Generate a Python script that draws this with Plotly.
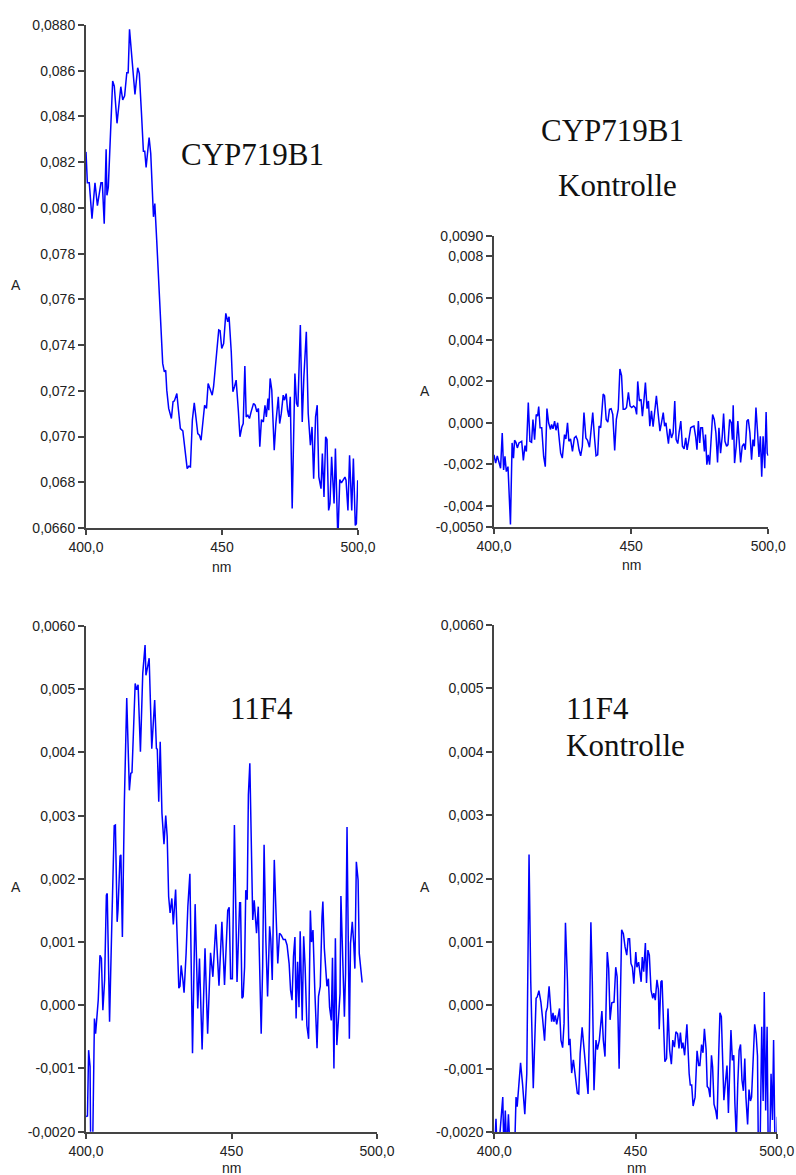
import plotly.graph_objects as go

# ---------------- data ----------------
wl_cyp = [400.0, 400.5, 401.2, 402.2, 403.3, 404.2, 405.5, 406.0, 406.7, 407.4, 407.7, 408.2,
          409.8, 410.4, 411.4, 412.8, 413.5, 414.2, 415.0, 415.5, 416.0, 416.6, 418.0, 419.0,
          419.6, 420.4, 421.1, 421.6, 422.1, 423.2, 423.8, 424.8, 425.3, 426.0, 427.0, 427.6,
          428.2, 428.8, 429.3, 429.7, 430.4, 431.4, 432.0, 432.5, 433.4, 434.0, 434.7, 435.6,
          436.2, 437.2, 437.8, 438.4, 439.1, 439.8, 440.4, 441.1, 441.7, 442.3, 443.6, 444.3,
          444.9, 445.5, 446.4, 446.9, 448.1, 448.8, 449.3, 449.9, 450.6, 451.4, 452.1, 452.6,
          453.4, 454.0, 454.6, 455.2, 456.0, 456.6, 457.3, 457.8, 458.4, 458.9, 459.5, 460.1,
          460.7, 461.6, 462.2, 462.8, 463.4, 463.9, 464.5, 465.2, 465.8, 466.3, 466.9, 467.2,
          467.7, 468.3, 469.2, 469.8, 470.7, 471.2, 471.8, 472.5, 473.0, 473.6, 474.1, 474.6,
          475.1, 475.8, 476.8, 477.4, 477.9, 478.8, 479.5, 480.1, 481.0, 481.7, 482.5, 483.1,
          483.7, 484.4, 485.0, 485.6, 486.4, 486.9, 487.5, 488.1, 488.6, 489.2, 489.7, 490.3,
          491.2, 491.7, 492.6, 493.3, 493.9, 494.5, 495.2, 495.6, 496.3, 496.9, 497.7, 498.3,
          499.0, 499.4, 499.9]
abs_cyp = [0.08245, 0.0811, 0.0811, 0.07953, 0.0811, 0.0801, 0.0811, 0.0811, 0.07931, 0.08257, 0.08055, 0.0809,
           0.08555, 0.08533, 0.0837, 0.0853, 0.08472, 0.0849, 0.08591, 0.08591, 0.08781, 0.08705, 0.08496, 0.08613,
           0.08588, 0.08413, 0.08248, 0.08248, 0.08177, 0.08308, 0.08238, 0.07961, 0.08019, 0.07858, 0.07603, 0.07466,
           0.0732, 0.07283, 0.0729, 0.07203, 0.07123, 0.07079, 0.07152, 0.07156, 0.07188, 0.07115, 0.07035, 0.07025,
           0.06955, 0.0686, 0.0687, 0.06867, 0.07072, 0.07147, 0.07086, 0.07013, 0.07006, 0.06984, 0.07137, 0.07123,
           0.07232, 0.0721, 0.07181, 0.07218, 0.07385, 0.07466, 0.07463, 0.07385, 0.07407, 0.07539, 0.07502, 0.07524,
           0.07371, 0.07196, 0.07218, 0.07247, 0.07115, 0.06999, 0.07042, 0.07057, 0.07308, 0.07086, 0.07093, 0.07079,
           0.07108, 0.07145, 0.07137, 0.07108, 0.07123, 0.06955, 0.07074, 0.07064, 0.07137, 0.07086, 0.07166, 0.07115,
           0.07254, 0.07203, 0.0694, 0.07057, 0.07174, 0.07057, 0.07101, 0.07181, 0.07159, 0.07188, 0.07115, 0.07086,
           0.07174, 0.06685, 0.07276, 0.07145, 0.0713, 0.07488, 0.07064, 0.07261, 0.07458, 0.07101, 0.06962, 0.07042,
           0.06816, 0.07086, 0.07137, 0.06823, 0.06772, 0.06926, 0.06736, 0.06999, 0.06987, 0.06677, 0.06707, 0.06911,
           0.06707, 0.06948, 0.0655, 0.06812, 0.06797, 0.06809, 0.06823, 0.06809, 0.06677, 0.06918, 0.06677, 0.06904,
           0.06611, 0.06619, 0.06809]

wl_cyp_ctrl = [400.0, 400.6, 401.2, 402.4, 403.0, 403.5, 404.0, 404.5, 405.1, 406.0, 406.6, 407.1,
               407.5, 408.0, 408.5, 409.1, 410.1, 410.7, 411.3, 411.8, 412.5, 413.1, 413.7, 414.2,
               414.8, 415.4, 415.9, 416.3, 416.8, 417.4, 418.1, 418.7, 419.3, 419.9, 420.6, 421.0,
               421.5, 422.1, 422.6, 423.2, 423.8, 424.3, 424.9, 425.7, 426.2, 426.8, 427.3, 427.9,
               428.6, 429.3, 429.9, 430.4, 431.0, 431.6, 432.2, 432.8, 433.5, 434.1, 434.8, 435.4,
               436.0, 436.6, 437.2, 437.8, 438.3, 438.9, 439.8, 440.3, 440.9, 441.5, 442.1, 442.7,
               443.3, 444.0, 444.6, 445.3, 445.9, 446.5, 447.1, 447.7, 448.3, 449.0, 449.6, 450.2,
               450.9, 451.5, 452.0, 452.4, 453.0, 453.6, 454.1, 454.7, 455.2, 455.8, 456.3, 456.8,
               457.4, 458.0, 458.6, 459.2, 459.8, 460.5, 461.1, 461.7, 462.2, 462.7, 463.1, 463.6,
               464.1, 464.7, 465.3, 465.9, 466.4, 467.0, 467.5, 468.1, 468.7, 469.3, 469.9, 470.4,
               471.0, 471.7, 472.3, 472.9, 473.5, 474.0, 474.5, 475.0, 475.4, 476.0, 476.7, 477.1,
               477.6, 478.1, 478.6, 479.1, 479.7, 480.3, 480.9, 481.5, 482.0, 482.6, 483.2, 483.7,
               484.2, 484.8, 485.3, 485.9, 486.5, 486.9, 487.2, 487.7, 488.3, 488.9, 489.4, 489.9,
               490.5, 491.1, 491.6, 492.2, 492.7, 493.3, 493.9, 494.4, 494.9, 495.5, 496.1, 496.6,
               497.1, 497.6, 498.1, 498.7, 499.2, 499.6, 500.0]
abs_cyp_ctrl = [-0.00154, -0.00194, -0.00159, -0.00219, -0.00049, -0.00227, -0.00162, -0.00235, -0.00211, -0.00489, -0.00097, -0.0017,
                -0.00084, -0.00094, -0.00121, -0.00097, -0.00089, -0.00181, -0.0011, -0.00138, 0.00097, -0.00089, -0.00094, 0.00016,
                -0.00081, 0.0004, 0.00032, 0.00078, -0.00024, -0.00024, -0.00162, -0.00211, 0.00068, 0.0, -0.00032, -0.00008,
                -0.00029, 0.00008, -0.00036, 0.0, -0.00081, -0.00146, -0.0017, -0.00057, -0.00078, 0.0, -0.00089, -0.00078,
                -0.00138, -0.00073, -0.00065, -0.00081, -0.0013, -0.00159, -0.00113, 0.00049, -0.00073, -0.00084, -0.00118, -0.00024,
                0.00049, -0.00065, -0.00159, -0.00154, -0.00016, -0.00024, 0.00138, 0.0013, 0.00016, 0.00003, 0.00065, 0.00068,
                0.0004, -0.00133, 0.00016, 0.00065, 0.00259, 0.00227, 0.00065, 0.00065, 0.00073, 0.00146, 0.00081, 0.00073,
                0.00081, 0.00073, 0.0004, 0.00199, 0.00105, 0.00113, 0.00032, 0.00113, 0.00194, 0.00068, 0.00105, -0.00016,
                0.00057, -0.00019, 0.00057, 0.0013, 0.00049, -0.0004, 0.00003, 0.00049, -0.00016, 0.0, -0.00049, -0.001,
                -0.00029, -0.00073, -0.00049, 0.00105, -0.00081, -0.001, -0.00045, 0.00008, -0.00113, -0.00126, -0.00073, -0.0013,
                -0.00084, -0.00024, -0.00019, -0.00016, -0.00065, -0.0013, 0.00008, -0.00097, -0.00024, -0.00024, -0.00138, -0.00057,
                -0.00202, -0.00154, -0.00202, -0.00065, 0.0004, 0.00016, -0.00049, -0.00191, -0.00024, -0.00146, -0.00065, 0.00045,
                -0.00089, -0.00113, -0.00105, 0.00016, 0.0, -0.00081, 0.00084, -0.00194, -0.00113, 0.00008, -0.00081, -0.00191,
                -0.00113, -0.001, -0.0013, 0.00008, 0.00016, -0.00049, -0.00178, -0.00081, -0.00113, 0.00073, -0.00049, -0.00165,
                -0.00065, -0.00259, -0.00065, -0.00219, 0.00052, -0.00146, -0.00159]

wl_11f4 = [400.0, 400.5, 400.9, 401.4, 401.6, 402.3, 402.9, 403.3, 404.2, 404.8, 405.3, 405.8,
           406.4, 407.0, 407.3, 408.1, 408.9, 409.7, 410.1, 410.7, 411.0, 411.7, 412.0, 412.5,
           413.2, 414.0, 414.9, 415.4, 415.8, 416.9, 417.4, 417.9, 418.7, 419.5, 420.3, 420.6,
           421.2, 421.7, 422.6, 423.2, 423.6, 424.2, 424.5, 425.0, 425.5, 426.1, 426.8, 427.4,
           427.9, 428.4, 428.9, 429.5, 430.0, 430.8, 431.4, 431.9, 432.3, 432.7, 433.3, 433.7,
           434.4, 435.0, 435.7, 436.6, 437.5, 438.4, 439.0, 439.9, 440.9, 441.8, 442.8, 443.6,
           444.6, 445.7, 446.7, 447.6, 448.7, 449.2, 449.7, 450.3, 451.0, 451.9, 452.8, 453.1,
           453.6, 454.0, 454.5, 454.9, 455.4, 455.8, 456.3, 456.8, 457.3, 457.8, 458.3, 458.6,
           459.2, 459.7, 460.2, 460.7, 461.2, 461.8, 462.4, 463.1, 463.5, 464.0, 464.7, 465.3,
           465.9, 466.5, 467.1, 467.8, 468.5, 469.1, 469.8, 470.3, 470.8, 471.3, 471.8, 472.2,
           472.7, 473.2, 473.6, 474.3, 474.8, 475.3, 475.9, 476.5, 477.1, 477.5, 478.0, 478.6,
           479.4, 479.9, 480.5, 481.1, 481.4, 481.9, 482.3, 482.8, 483.3, 483.7, 484.3, 484.7,
           485.2, 485.7, 486.2, 486.8, 487.3, 487.6, 488.2, 488.8, 489.2, 489.7, 490.0, 490.5,
           490.9, 491.5, 492.0, 492.4, 492.9, 493.5, 493.9, 494.4, 494.9]
abs_11f4 = [-0.00176, -0.00175, -0.00071, -0.00097, -0.0022, -0.0022, -0.00021, -0.00045, 0.00008, 0.00079, 0.00074, -0.00008,
            0.0004, 0.00174, 0.00177, -0.00026, 0.00135, 0.00284, 0.00285, 0.00132, 0.00151, 0.00236, 0.00238, 0.00108,
            0.00325, 0.00486, 0.0034, 0.00367, 0.00368, 0.00509, 0.00499, 0.00507, 0.00401, 0.00525, 0.0057, 0.00522,
            0.00536, 0.00549, 0.00406, 0.00451, 0.00483, 0.00406, 0.00405, 0.00322, 0.00417, 0.00304, 0.00255, 0.003,
            0.00267, 0.00172, 0.00146, 0.00169, 0.00128, 0.00183, 0.00108, 0.00027, 0.0003, 0.00063, 0.0004, 0.0002,
            0.00082, 0.00156, 0.00208, -0.00076, 0.0016, -0.00005, 0.00074, -0.0007, 0.0009, -0.00045, 0.00083, 0.00045,
            0.00128, 0.00031, 0.00132, 0.00032, 0.0015, 0.00155, 0.00042, 0.00042, 0.00285, 0.00037, 0.00162, 0.00162,
            0.00011, 0.00014, 0.00061, 0.00182, 0.00167, 0.00333, 0.00383, 0.00241, 0.00135, 0.00166, 0.0014, 0.00114,
            0.00156, 0.00056, -0.00045, 0.00061, 0.00254, 0.00104, 0.00014, 0.00125, 0.00104, 0.0004, 0.0023, 0.00146,
            0.00066, 0.00114, 0.00111, 0.00104, 0.00104, 0.00095, 0.00066, 0.00024, 0.00008, 0.00077, 0.00108, -0.00021,
            0.00069, -0.00003, 0.00117, -0.00024, 0.00109, 0.00061, -0.00032, -0.00053, 0.0015, 0.001, 0.00119, 0.00027,
            -0.00068, 0.00014, 0.0003, 0.0014, 0.00164, 0.0009, 0.00066, 0.0003, 0.00042, -0.00003, -0.00024, 0.00075,
            -0.001, 0.00106, -0.00063, -0.00021, 0.00019, 0.00173, 0.00061, -0.00018, 0.00051, 0.00282, 0.00156, -0.00053,
            0.00098, 0.00132, 0.00098, 0.00058, 0.00227, 0.00198, 0.00082, 0.00056, 0.00036]

wl_11f4_ctrl = [400.0, 400.6, 401.0, 401.5, 403.0, 403.4, 403.9, 404.4, 405.0, 405.6, 407.2, 407.7,
                408.1, 409.3, 410.0, 410.8, 411.5, 412.3, 412.9, 413.8, 414.8, 415.2, 415.8, 416.5,
                417.1, 417.8, 418.3, 418.8, 419.4, 419.8, 420.3, 420.8, 421.1, 421.6, 422.1, 422.6,
                423.1, 423.6, 424.2, 424.7, 425.2, 425.9, 426.4, 426.8, 427.4, 428.0, 428.7, 429.4,
                429.9, 430.4, 431.1, 431.8, 432.5, 433.2, 433.7, 434.2, 434.7, 435.3, 436.0, 436.5,
                437.2, 438.1, 438.6, 439.2, 440.0, 440.5, 441.0, 441.6, 442.4, 443.0, 443.5, 444.2,
                445.1, 445.7, 446.3, 446.9, 447.4, 447.9, 448.4, 448.9, 449.4, 450.1, 450.5, 451.1,
                452.0, 452.4, 452.9, 453.5, 453.9, 454.4, 454.9, 455.5, 456.1, 456.5, 457.0, 457.6,
                458.1, 458.4, 459.0, 459.4, 460.0, 460.4, 461.0, 461.5, 462.1, 462.7, 463.2, 463.8,
                464.3, 464.9, 465.4, 465.9, 466.4, 466.8, 467.4, 468.2, 469.0, 469.4, 469.9, 470.4,
                471.1, 471.8, 472.4, 472.8, 473.4, 473.9, 474.4, 475.0, 475.4, 475.9, 476.4, 476.9,
                477.3, 477.8, 478.4, 478.9, 479.5, 479.9, 480.4, 480.9, 481.3, 481.8, 482.4, 482.9,
                483.4, 483.8, 484.3, 484.8, 485.2, 485.7, 486.2, 486.7, 487.2, 487.7, 488.2, 488.7,
                489.1, 489.7, 490.2, 490.7, 491.1, 491.6, 492.2, 492.7, 493.2, 493.5, 494.1, 494.7,
                495.2, 495.6, 496.1, 496.6, 497.0, 497.5, 498.0, 498.5, 498.9, 499.4, 499.8, 500.2]
abs_11f4_ctrl = [-0.0023, -0.00179, -0.0023, -0.0023, -0.00145, -0.0023, -0.00166, -0.0023, -0.00172, -0.0023, -0.0023, -0.00145,
                 -0.0016, -0.00091, -0.00124, -0.00172, -0.00108, 0.00238, 0.00039, -0.00131, 0.00011, 0.00013, 0.00023, 0.00005,
                 -0.00021, -0.00056, -0.00011, -0.00003, 0.0003, 0.00008, -0.00026, -0.00012, -0.00026, -0.00016, -0.0003, -0.00018,
                 -0.00005, -0.00055, -0.00067, -0.00029, 0.0013, 0.00039, -0.00063, -0.00053, -0.00107, -0.00086, -0.00116, -0.00139,
                 -0.0014, -0.00076, -0.00035, -0.00071, -0.00113, -0.0014, -0.00034, 0.00131, 0.00039, -0.00134, -0.00055, -0.0007,
                 -0.00055, -0.00009, -0.00055, -0.00081, 0.00084, 0.00058, -0.00023, 0.00004, 0.00005, 0.0006, 0.00045, -0.001,
                 0.00119, 0.00113, 0.00092, 0.00079, 0.00105, 0.00105, 0.00066, 0.0006, 0.00034, 0.00084, 0.0006, 0.00068,
                 0.00037, 0.00076, 0.00053, 0.00098, 0.00035, 0.00087, 0.00079, 0.00024, 0.00011, 0.00019, 0.00008, 0.0004,
                 0.00025, -0.00038, 0.00037, 0.00039, -0.00039, -0.00089, -0.00084, -0.00005, -0.00071, -0.00093, -0.00055, -0.00066,
                 -0.00042, -0.00045, -0.00068, -0.00043, -0.00068, -0.00059, -0.00079, -0.0003, -0.00108, -0.00126, -0.00126, -0.00159,
                 -0.00145, -0.00072, -0.00095, -0.00095, -0.00062, -0.00075, -0.00037, -0.0007, -0.00128, -0.00131, -0.00145, -0.00079,
                 -0.00097, -0.00156, -0.00166, -0.0018, -0.00071, -0.00012, -0.00018, -0.00076, -0.0015, -0.00124, -0.00095, -0.0017,
                 -0.00087, -0.00039, -0.00087, -0.00079, -0.00155, -0.0021, -0.00126, -0.00071, -0.00062, -0.00118, -0.00135, -0.00084,
                 -0.00145, -0.00188, -0.00133, -0.00151, -0.00145, -0.00087, -0.0003, -0.00045, -0.0008, -0.0023, -0.0023, -0.00034,
                 -0.00151, 0.00021, -0.00166, -0.00034, -0.0023, -0.0023, -0.00108, -0.00181, -0.00055, -0.0023, -0.0023, -0.00176]

# axis ticks
x_ticks = [400, 450, 500]
x_ticktext = ["400,0", "450", "500,0"]

y1_ticks = [0.066, 0.068, 0.070, 0.072, 0.074, 0.076, 0.078, 0.080, 0.082, 0.084, 0.086, 0.088]
y1_ticktext = ["0,0660", "0,068", "0,070", "0,072", "0,074", "0,076", "0,078", "0,080",
               "0,082", "0,084", "0,086", "0,0880"]
y2_ticks = [-0.005, -0.004, -0.002, 0.0, 0.002, 0.004, 0.006, 0.008, 0.009]
y2_ticktext = ["-0,0050", "-0,004", "-0,002", "0,000", "0,002", "0,004", "0,006", "0,008", "0,0090"]
y3_ticks = [-0.002, -0.001, 0.0, 0.001, 0.002, 0.003, 0.004, 0.005, 0.006]
y3_ticktext = ["-0,0020", "-0,001", "0,000", "0,001", "0,002", "0,003", "0,004", "0,005", "0,0060"]

# ---------------- figure ----------------
W, H = 796, 1175


def px_x(p):
    return p / W


def px_y(p):
    return 1 - p / H


panels = [
    dict(xd=(86, 358), yd=(528, 25), yr=[0.066, 0.088], yt=y1_ticks, ytt=y1_ticktext,
         x=wl_cyp, y=abs_cyp),
    dict(xd=(494, 768.3), yd=(526.7, 235.7), yr=[-0.005, 0.009], yt=y2_ticks, ytt=y2_ticktext,
         x=wl_cyp_ctrl, y=abs_cyp_ctrl),
    dict(xd=(86, 377), yd=(1131.7, 626), yr=[-0.002, 0.006], yt=y3_ticks, ytt=y3_ticktext,
         x=wl_11f4, y=abs_11f4),
    dict(xd=(494.3, 776.7), yd=(1132, 625), yr=[-0.002, 0.006], yt=y3_ticks, ytt=y3_ticktext,
         x=wl_11f4_ctrl, y=abs_11f4_ctrl),
]

fig = go.Figure()
tick_font = dict(family="Liberation Sans, Arial, sans-serif", size=14, color="#222222")
axis_color = "#444444"
layout = {}
for i, p in enumerate(panels, start=1):
    sfx = "" if i == 1 else str(i)
    fig.add_trace(go.Scatter(x=p["x"], y=p["y"], mode="lines",
                             line=dict(color="#0000ff", width=1.5),
                             xaxis="x" + sfx, yaxis="y" + sfx, showlegend=False))
    layout["xaxis" + sfx] = dict(
        domain=[px_x(p["xd"][0]), px_x(p["xd"][1])], range=[400, 500],
        anchor="y" + sfx, showgrid=False, zeroline=False, automargin=False,
        showline=True, linecolor=axis_color, linewidth=2,
        ticks="outside", ticklen=5, tickwidth=1.5, tickcolor=axis_color,
        tickvals=x_ticks, ticktext=x_ticktext, tickfont=tick_font,
    )
    layout["yaxis" + sfx] = dict(
        domain=[px_y(p["yd"][0]), px_y(p["yd"][1])], range=p["yr"],
        anchor="x" + sfx, showgrid=False, zeroline=False, automargin=False,
        showline=True, linecolor=axis_color, linewidth=2,
        ticks="outside", ticklen=6, tickwidth=1.5, tickcolor=axis_color,
        tickvals=p["yt"], ticktext=p["ytt"], tickfont=tick_font,
    )

fig.update_layout(width=W, height=H, autosize=False,
                  margin=dict(l=0, r=0, t=0, b=0, autoexpand=False),
                  paper_bgcolor="white", plot_bgcolor="white", **layout)

label_font = dict(family="Liberation Sans, Arial, sans-serif", size=14, color="#222222")
title_font = dict(family="Liberation Serif, Times New Roman, serif", size=31, color="#111111")

axis_labels = [("A", 16, 285), ("A", 425, 391), ("A", 16, 887), ("A", 425, 887),
               ("nm", 221, 567), ("nm", 631, 565), ("nm", 231, 1168), ("nm", 636, 1168)]
for txt, x, y in axis_labels:
    fig.add_annotation(text=txt, x=px_x(x), y=px_y(y), xref="paper", yref="paper",
                       showarrow=False, xanchor="center", yanchor="middle", font=label_font)

titles = [("CYP719B1", 252, 155, "center"), ("CYP719B1", 612, 131, "center"),
          ("Kontrolle", 617, 185, "center"), ("11F4", 261, 708, "center"),
          ("11F4", 564, 708, "left"), ("Kontrolle", 564, 745, "left")]
for txt, x, y, anchor in titles:
    fig.add_annotation(text=txt, x=px_x(x), y=px_y(y), xref="paper", yref="paper",
                       showarrow=False, xanchor=anchor, yanchor="middle", font=title_font)

fig.write_html("out.html")
